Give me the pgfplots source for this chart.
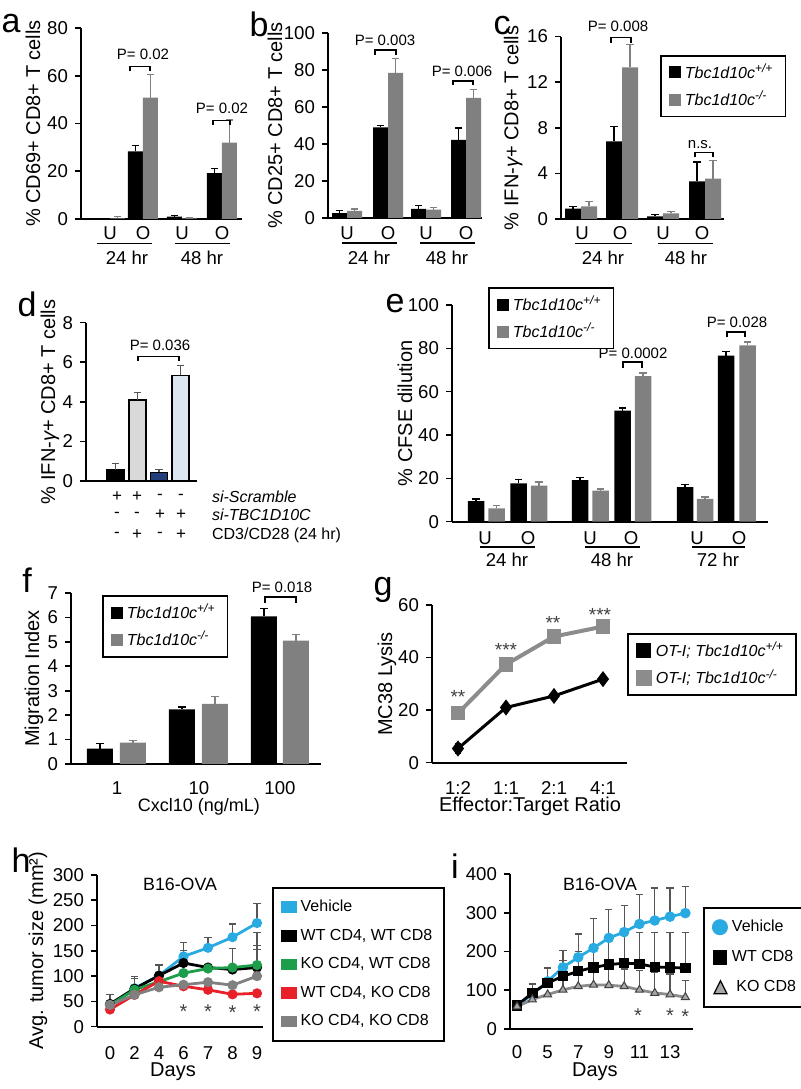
\documentclass[border=0pt]{standalone}
\usepackage{fontspec}
\setmainfont{Liberation Sans}
\usepackage{pgfplots}
\pgfplotsset{compat=1.18}
\newcommand{\ft}[1]{\fontsize{#1}{#1}\selectfont}
\definecolor{gbar}{HTML}{808080}
\definecolor{lgray}{HTML}{D9D9D9}
\definecolor{navy}{HTML}{223E7A}
\definecolor{lblue}{HTML}{DCE6F2}
\definecolor{vcyan}{HTML}{29ABE2}
\definecolor{vgreen}{HTML}{1E9E4A}
\definecolor{vred}{HTML}{E8202A}
\definecolor{vgray}{HTML}{808080}
\definecolor{errg}{HTML}{555555}
\definecolor{ggline}{HTML}{8C8C8C}
\pgfplotsset{
  /pgf/number format/assume math mode=true,
  base/.style={scale only axis, anchor=south west, axis lines*=left,
    axis line style={line width=1pt}, tick style={line width=0.8pt, black},
    tick align=outside, major tick length=3pt, clip=false, xtick=\empty,
    yticklabel style={font=\ft{9.3}}, xticklabel style={font=\ft{9.3}},
    label style={font=\ft{8.8}},
    every axis y label/.style={rotate=90, anchor=center},
    every axis x label/.style={anchor=center},
    legend cell align=left},
  eb/.style={error bars/y dir=plus, error bars/y explicit,
    error bars/error bar style={#1, line width=0.6pt},
    error bars/error mark options={#1, line width=0.6pt, mark size=1.8pt, rotate=90}},
  bk/.style={ybar, bar shift=0pt, fill=black, draw=none, eb=black,
    legend image code/.code={\fill[black] (0pt,-3pt) rectangle (6pt,3pt);}},
  gy/.style={ybar, bar shift=0pt, fill=gbar, draw=none, eb=gbar,
    legend image code/.code={\fill[gbar] (0pt,-3pt) rectangle (6pt,3pt);}},
  lg/.style={legend style={at={#1}, anchor=north west, draw=black, line width=0.9pt,
    font=\ft{8}, inner xsep=4pt, inner ysep=2pt, row sep=1pt}},
}
% bracket: x1,x2,ybar,yleg,textx,texty,text
\newcommand{\brk}[7]{\draw[line width=0.6pt] (axis cs:#1,#4) -- (axis cs:#1,#3) -- (axis cs:#2,#3) -- (axis cs:#2,#4);
  \node[font=\ft{7.5}] at (axis cs:#5,#6) {#7};}
\newcommand{\cat}[3]{\node[font=\ft{9.3}, yshift=#2] at (axis cs:#1,0) {#3};}
\newcommand{\uline}[3]{\draw[line width=0.8pt] ([yshift=#3]axis cs:#1,0) -- ([yshift=#3]axis cs:#2,0);}
\newcommand{\tx}[4]{\node[font=\ft{#1}, yshift=#3] at (axis cs:#2,0) {#4};}
\newcommand{\strs}[3]{\node[font=\ft{#1}, text=black!75, yshift=-2pt] at (axis cs:#2) {#3};}
\begin{document}
\begin{tikzpicture}
\path[use as bounding box] (0,0) rectangle (400pt,544.5pt);
% ---------------- a
\begin{axis}[base, at={(40.5pt,435pt)}, width=80.5pt, height=95.5pt,
  xmin=0, xmax=161, ymin=0, ymax=80, ytick={0,20,40,60,80},
  ylabel={\% CD69+ CD8+ T cells}, ylabel style={at={(axis description cs:-0.298,0.5)}}]
\addplot[bk, bar width=15] coordinates {(21.5,0) +- (0,0) (54.5,28.3) +- (0,2.6) (93.5,1.0) +- (0,0.6) (133.5,19.2) +- (0,1.9)};
\addplot[gy, bar width=15] coordinates {(36.5,0.3) +- (0,0.8) (69.5,50.8) +- (0,9.8) (108.5,0.3) +- (0,0.1) (148.5,32) +- (0,9.5)};
\cat{29}{-7pt}{U}\cat{62}{-7pt}{O}\cat{101}{-7pt}{U}\cat{141}{-7pt}{O}
\uline{16}{71}{-12.25pt}\uline{94}{149}{-12.25pt}
\cat{46}{-19.5pt}{24 hr}\cat{121}{-19.5pt}{48 hr}
\brk{49}{69}{63.8}{62}{62}{69.1}{P= 0.02}
\brk{132}{149}{41.2}{39.4}{141}{46.5}{P= 0.02}
\end{axis}
% ---------------- b
\begin{axis}[base, at={(164pt,435.5pt)}, width=77pt, height=92.5pt,
  xmin=0, xmax=154, ymin=0, ymax=100, ytick={0,20,...,100},
  ylabel={\% CD25+ CD8+ T cells}, ylabel style={at={(axis description cs:-0.344,0.5)}}]
\addplot[bk, bar width=15] coordinates {(11.5,2.7) +- (0,1.3) (52.5,49) +- (0,1) (90.5,4.9) +- (0,1.9) (130.5,42.2) +- (0,6.4)};
\addplot[gy, bar width=15] coordinates {(26.5,3.8) +- (0,1.1) (67.5,78.4) +- (0,7.9) (105.5,4.5) +- (0,1.3) (145.5,64.9) +- (0,4.5)};
\cat{19}{-7.5pt}{U}\cat{60}{-7.5pt}{O}\cat{98}{-7.5pt}{U}\cat{138}{-7.5pt}{O}
\uline{14}{69}{-12.5pt}\uline{92}{147}{-12.5pt}
\cat{41}{-19.75pt}{24 hr}\cat{119}{-19.75pt}{48 hr}
\brk{47}{68}{90.8}{88.1}{57}{96.2}{P= 0.003}
\brk{125}{145}{74.1}{71.9}{134}{79.5}{P= 0.006}
\end{axis}
% ---------------- c
\begin{axis}[base, at={(280.5pt,435pt)}, width=81.5pt, height=91.2pt,
  xmin=0, xmax=163, ymin=0, ymax=16, ytick={0,4,...,16},
  ylabel={\% IFN-{\itshape γ}+ CD8+ T cells}, ylabel style={at={(axis description cs:-0.294,0.5)}},
  lg={(0.607,0.9)}]
\addplot[bk, bar width=16] coordinates {(12,0.9) +- (0,0.2) (53,6.8) +- (0,1.3) (94,0.23) +- (0,0.17) (136,3.3) +- (0,1.7)};
\addlegendentry{\textit{Tbc1d10c\textsuperscript{+/+}}}
\addplot[gy, bar width=16] coordinates {(28,1.1) +- (0,0.4) (69,13.3) +- (0,2.0) (110,0.5) +- (0,0.15) (152,3.55) +- (0,1.55)};
\addlegendentry{\textit{Tbc1d10c\textsuperscript{-/-}}}
\cat{21}{-7pt}{U}\cat{59}{-7pt}{O}\cat{102}{-7pt}{U}\cat{141}{-7pt}{O}
\uline{14}{71}{-12.25pt}\uline{97}{152}{-12.25pt}
\cat{42}{-19.5pt}{24 hr}\cat{125}{-19.5pt}{48 hr}
\brk{50}{70}{15.9}{15.45}{57}{16.9}{P= 0.008}
\brk{134}{152}{5.8}{5.44}{139}{6.5}{n.s.}
\end{axis}
% ---------------- d
\begin{axis}[base, at={(43pt,304pt)}, width=55.5pt, height=79.2pt,
  xmin=0, xmax=111, ymin=0, ymax=8, ytick={0,2,...,8},
  ylabel={\% IFN-{\itshape γ}+ CD8+ T cells}, ylabel style={at={(axis description cs:-0.324,0.5)}}]
\addplot[ybar, bar shift=0pt, bar width=17, fill=black, draw=black, line width=0.6pt, eb=errg] coordinates {(29.5,0.56) +- (0,0.33)};
\addplot[ybar, bar shift=0pt, bar width=17, fill=lgray, draw=black, line width=0.6pt, eb=errg] coordinates {(51.5,4.09) +- (0,0.39)};
\addplot[ybar, bar shift=0pt, bar width=17, fill=navy, draw=black, line width=0.6pt, eb=errg] coordinates {(73,0.44) +- (0,0.16)};
\addplot[ybar, bar shift=0pt, bar width=17, fill=lblue, draw=black, line width=0.6pt, eb=errg] coordinates {(94.5,5.34) +- (0,0.5)};
\brk{52}{93}{6.28}{6.06}{74}{6.87}{P= 0.036}
\tx{8.5}{31}{-8pt}{+}\tx{8.5}{51}{-8pt}{+}\tx{8.5}{74}{-8pt}{-}\tx{8.5}{95}{-8pt}{-}
\tx{8.5}{31}{-17pt}{-}\tx{8.5}{51}{-17pt}{-}\tx{8.5}{74}{-17pt}{+}\tx{8.5}{95}{-17pt}{+}
\tx{8.5}{31}{-27pt}{-}\tx{8.5}{51}{-27pt}{+}\tx{8.5}{74}{-27pt}{-}\tx{8.5}{95}{-27pt}{+}
\node[font=\ft{8}, anchor=west, yshift=-8pt] at (axis cs:119,0) {\textit{si-Scramble}};
\node[font=\ft{8}, anchor=west, yshift=-17pt] at (axis cs:119,0) {\textit{si-TBC1D10C}};
\node[font=\ft{8}, anchor=west, yshift=-27pt] at (axis cs:119,0) {CD3/CD28 (24 hr)};
\end{axis}
% ---------------- e
\begin{axis}[base, at={(226pt,283.65pt)}, width=158pt, height=108.35pt,
  xmin=0, xmax=316, ymin=0, ymax=100, ytick={0,20,...,100},
  ylabel={\% CFSE dilution}, ylabel style={at={(axis description cs:-0.149,0.5)}},
  lg={(0.114,1.083)}]
\addplot[bk, bar width=16.5] coordinates {(24,9.5) +- (0,1) (66.5,17.7) +- (0,1.8) (128,19.2) +- (0,1.3) (170.5,51.2) +- (0,1.3) (233,16) +- (0,1.1) (274,76.6) +- (0,2.0)};
\addlegendentry{\textit{Tbc1d10c\textsuperscript{+/+}}}
\addplot[gy, bar width=16.5] coordinates {(44.5,6.2) +- (0,1.2) (87,16.6) +- (0,1.7) (148.5,14.3) +- (0,0.8) (191,67.2) +- (0,1.4) (253,10.5) +- (0,0.9) (295.5,81.4) +- (0,1.5)};
\addlegendentry{\textit{Tbc1d10c\textsuperscript{-/-}}}
\cat{33}{-8pt}{U}\cat{76}{-8pt}{O}\cat{138}{-8pt}{U}\cat{179}{-8pt}{O}\cat{245}{-8pt}{U}\cat{287}{-8pt}{O}
\uline{28}{83}{-12.65pt}\uline{133}{188}{-12.65pt}\uline{240}{293}{-12.65pt}
\cat{55}{-19.15pt}{24 hr}\cat{160}{-19.15pt}{48 hr}\cat{266}{-19.15pt}{72 hr}
\brk{171}{190}{73.7}{70.9}{181}{77.9}{P= 0.0002}
\brk{275}{293}{87.5}{85.2}{285}{92.2}{P= 0.028}
\end{axis}
% ---------------- f
\begin{axis}[base, at={(35.5pt,162.5pt)}, width=125pt, height=85.5pt,
  xmin=0, xmax=250, ymin=0, ymax=7, ytick={0,1,...,7},
  ylabel={Migration Index}, ylabel style={at={(axis description cs:-0.148,0.5)}},
  xlabel={Cxcl10 (ng/mL)}, xlabel style={at={(axis description cs:0.512,0)}, yshift=-21.5pt, font=\ft{9}},
  lg={(0.124,0.988)}]
\addplot[bk, bar width=26] coordinates {(29,0.63) +- (0,0.2) (111,2.24) +- (0,0.09) (193,6.04) +- (0,0.34)};
\addlegendentry{\textit{Tbc1d10c\textsuperscript{+/+}}}
\addplot[gy, bar width=26] coordinates {(62,0.87) +- (0,0.1) (144,2.46) +- (0,0.31) (225,5.05) +- (0,0.24)};
\addlegendentry{\textit{Tbc1d10c\textsuperscript{-/-}}}
\cat{46}{-12pt}{1}\cat{128}{-12pt}{10}\cat{209}{-12pt}{100}
\brk{194}{225}{6.84}{6.59}{211}{7.25}{P= 0.018}
\end{axis}
% ---------------- g
\begin{axis}[base, at={(216pt,163.15pt)}, width=97.5pt, height=78.85pt,
  xmin=0, xmax=195, ymin=0, ymax=60, ytick={0,20,40,60},
  xtick={26,74,122,171}, xticklabels={1:2,1:1,2:1,4:1}, x tick style={draw=none},
  xticklabel style={anchor=center, yshift=-9.5pt},
  ylabel={MC38 Lysis}, ylabel style={at={(axis description cs:-0.231,0.5)}},
  xlabel={Effector:Target Ratio}, xlabel style={at={(axis description cs:0.503,0)}, yshift=-22pt},
  lg={(1.0,0.822)}]
\addplot[black, line width=1.5pt, mark=diamond*, mark size=2.8pt,
  error bars/y dir=both, error bars/y explicit, error bars/error bar style={black, line width=0.6pt},
  error bars/error mark options={black, line width=0.6pt, mark size=1.5pt, rotate=90},
  legend image code/.code={\fill[black] (0pt,-3pt) rectangle (6pt,3pt);}]
  coordinates {(26,5.4) +- (0,1.8) (74,21) +- (0,0.5) (122,25.4) +- (0,0.5) (171,31.8) +- (0,0.5)};
\addlegendentry{\textit{OT-I; Tbc1d10c\textsuperscript{+/+}}}
\addplot[ggline, line width=2pt, mark=square*, mark size=2.6pt,
  legend image code/.code={\fill[ggline] (0pt,-3pt) rectangle (6pt,3pt);}]
  coordinates {(26,18.8) (74,37.4) (122,48) (171,51.8)};
\addlegendentry{\textit{OT-I; Tbc1d10c\textsuperscript{-/-}}}
\strs{9.5}{26,26.5}{**}
\strs{9.5}{74,44.4}{***}
\strs{9.5}{121,54.7}{**}
\strs{9.5}{168,57.7}{***}
\end{axis}
% ---------------- h
\begin{axis}[base, at={(48.5pt,31.15pt)}, width=83pt, height=75.85pt,
  xmin=-0.53, xmax=6.245, ymin=0, ymax=300, ytick={0,50,...,300},
  xtick={0,...,6}, xticklabels={0,2,4,6,7,8,9}, x tick style={draw=none},
  xticklabel style={anchor=center, yshift=-10pt},
  ylabel={Avg. tumor size (mm²)}, ylabel style={at={(axis description cs:-0.355,0.5)}},
  xlabel={Days}, xlabel style={at={(axis description cs:0.458,0)}, yshift=-22.5pt},
  lg={(1.054,0.921)}, legend style={row sep=3.2pt, inner ysep=4pt}]
\addplot[vcyan, line width=1.4pt, mark=*, mark size=1.8pt, eb=errg,
  legend image code/.code={\fill[vcyan] (0pt,-2.2pt) rectangle (6.5pt,2.2pt);}]
  coordinates {(0,43) +- (0,0) (1,76) +- (0,0) (2,101) +- (0,0) (3,139) +- (0,28) (4,156) +- (0,21) (5,177) +- (0,26) (6,205) +- (0,38)};
\addlegendentry{Vehicle}
\addplot[black, line width=1.4pt, mark=*, mark size=1.8pt, eb=errg,
  legend image code/.code={\fill[black] (0pt,-2.2pt) rectangle (6.5pt,2.2pt);}]
  coordinates {(0,45) +- (0,18) (1,75) +- (0,25) (2,101) +- (0,21) (3,126) +- (0,24) (4,117) +- (0,0) (5,113) +- (0,0) (6,117) +- (0,36)};
\addlegendentry{WT CD4, WT CD8}
\addplot[vgreen, line width=1.4pt, mark=*, mark size=1.8pt, eb=errg,
  legend image code/.code={\fill[vgreen] (0pt,-2.2pt) rectangle (6.5pt,2.2pt);}]
  coordinates {(0,43) +- (0,0) (1,73) +- (0,0) (2,89) +- (0,0) (3,106) +- (0,0) (4,115) +- (0,0) (5,117) +- (0,38) (6,122) +- (0,65)};
\addlegendentry{KO CD4, WT CD8}
\addplot[vred, line width=1.4pt, mark=*, mark size=1.8pt,
  legend image code/.code={\fill[vred] (0pt,-2.2pt) rectangle (6.5pt,2.2pt);}]
  coordinates {(0,34) (1,63) (2,90) (3,80) (4,73) (5,64) (6,66)};
\addlegendentry{WT CD4, KO CD8}
\addplot[vgray, line width=1.4pt, mark=*, mark size=1.8pt, eb=errg,
  legend image code/.code={\fill[vgray] (0pt,-2.2pt) rectangle (6.5pt,2.2pt);}]
  coordinates {(0,43) +- (0,20) (1,63) +- (0,32) (2,78) +- (0,0) (3,83) +- (0,0) (4,88) +- (0,0) (5,82) +- (0,0) (6,100) +- (0,61)};
\addlegendentry{KO CD4, KO CD8}
\node[font=\ft{8.9}] at (axis cs:2.86,282) {B16-OVA};
\strs{10}{3,37}{*}
\strs{10}{4,37}{*}
\strs{10}{5,35}{*}
\strs{10}{6,38}{*}
\end{axis}
% ---------------- i
\begin{axis}[base, at={(255pt,30pt)}, width=91.5pt, height=77.5pt,
  xmin=-0.46, xmax=11.5, ymin=0, ymax=400, ytick={0,100,...,400},
  xtick={0,2,...,10}, xticklabels={0,5,7,9,11,13}, x tick style={draw=none},
  xticklabel style={anchor=center, yshift=-8.5pt},
  xlabel={Days}, xlabel style={at={(axis description cs:0.464,0)}, yshift=-21.5pt},
  lg={(1.055,0.787)}, legend style={row sep=4pt, inner ysep=4pt}]
\addplot[vcyan, line width=1.4pt, mark=*, mark size=1.9pt, eb=errg,
  legend image code/.code={\fill[vcyan] (3pt,0pt) circle (3.3pt);}]
  coordinates {(0,61) +- (0,0) (1,89) +- (0,0) (2,123) +- (0,36) (3,159) +- (0,43) (4,185) +- (0,60) (5,209) +- (0,77) (6,235) +- (0,73) (7,250) +- (0,69) (8,271) +- (0,77) (9,280) +- (0,84) (10,290) +- (0,74) (11,299) +- (0,69)};
\addlegendentry{Vehicle}
\addplot[black, line width=1.4pt, mark=square*, mark size=1.9pt, eb=errg,
  legend image code/.code={\fill[black] (0pt,-3pt) rectangle (6pt,3pt);}]
  coordinates {(0,61) +- (0,0) (1,93) +- (0,23) (2,119) +- (0,38) (3,136) +- (0,40) (4,149) +- (0,51) (5,159) +- (0,56) (6,166) +- (0,64) (7,170) +- (0,78) (8,168) +- (0,80) (9,160) +- (0,88) (10,159) +- (0,89) (11,157) +- (0,91)};
\addlegendentry{WT CD8}
\addplot[ggline, line width=1.4pt, mark=triangle*, mark size=2.3pt, mark options={fill=gray!70, draw=black!75, line width=0.5pt}, eb=errg,
  legend image code/.code={\draw[fill=gray!70, draw=black, line width=0.6pt] (0pt,-3pt) -- (6.5pt,-3pt) -- (3.25pt,3.5pt) -- cycle;}]
  coordinates {(0,58) +- (0,0) (1,76) +- (0,0) (2,89) +- (0,0) (3,101) +- (0,30) (4,110) +- (0,40) (5,114) +- (0,40) (6,113) +- (0,40) (7,110) +- (0,45) (8,101) +- (0,49) (9,93) +- (0,53) (10,89) +- (0,53) (11,82) +- (0,43)};
\addlegendentry{\ KO CD8}
\node[font=\ft{8.9}] at (axis cs:5.42,374) {B16-OVA};
\strs{10}{7.9,44}{*}
\strs{10}{10,44}{*}
\strs{10}{11,42}{*}
\end{axis}
% ---------------- panel letters
\node[font=\ft{17}] at (5.5pt,532.5pt) {a};
\node[font=\ft{17}] at (129.5pt,532.5pt) {b};
\node[font=\ft{17}] at (251pt,531.5pt) {c};
\node[font=\ft{17}] at (13.5pt,392.5pt) {d};
\node[font=\ft{17}] at (197.5pt,392.5pt) {e};
\node[font=\ft{17}] at (13.5pt,254.5pt) {f};
\node[font=\ft{17}] at (191.5pt,249.5pt) {g};
\node[font=\ft{17}] at (10.5pt,114.5pt) {h};
\node[font=\ft{17}] at (227.5pt,111.5pt) {i};
\end{tikzpicture}
\end{document}
